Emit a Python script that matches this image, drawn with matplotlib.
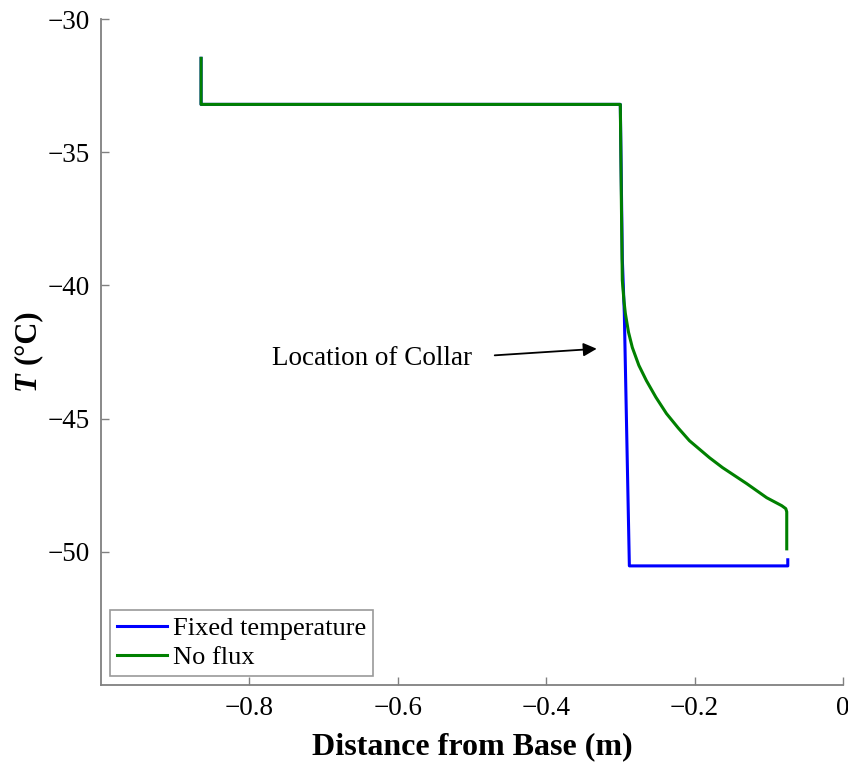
"""Temperature profile along the rod: fixed temperature vs no flux."""

import matplotlib
matplotlib.use("Agg")
import matplotlib.pyplot as plt

# values
fixed_x = [-0.865, -0.865, -0.300, -0.2973, -0.2946, -0.2878, -0.0743, -0.0743]
fixed_t = [-31.47, -33.20, -33.20, -39.0, -41.05, -50.53, -50.53, -50.30]

noflux_x = [-0.865, -0.865, -0.300, -0.2986, -0.2973, -0.2950, -0.2932, -0.2890,
            -0.2838, -0.2750, -0.2649, -0.2520, -0.2378, -0.2220, -0.2068,
            -0.1797, -0.1622, -0.1297, -0.1027, -0.0824, -0.0770, -0.0757,
            -0.0757]
noflux_t = [-31.47, -33.20, -33.20, -36.80, -39.81, -40.60, -41.05, -41.75,
            -42.33, -43.00, -43.57, -44.20, -44.81, -45.35, -45.83,
            -46.47, -46.84, -47.44, -47.97, -48.27, -48.38, -48.50,
            -49.89]

x_ticks = [-0.8, -0.6, -0.4, -0.2, 0]
x_ticklabels = ["\u22120.8", "\u22120.6", "\u22120.4", "\u22120.2", "0"]
y_ticks = [-50, -45, -40, -35, -30]
y_ticklabels = ["\u221250", "\u221245", "\u221240", "\u221235", "\u221230"]

plt.rcParams["font.family"] = ["Liberation Serif", "DejaVu Serif"]
fs = 19.5
grey = "#808080"

fig = plt.figure(figsize=(8.48, 7.67), dpi=100)
ax = fig.add_axes([0.119, 0.107, 0.875, 0.868])

ax.plot(fixed_x, fixed_t, color="#0000ff", lw=2.2, label="Fixed temperature")
ax.plot(noflux_x, noflux_t, color="#008000", lw=2.2, label="No flux")

ax.set_xlim(-1.0, 0.0)
ax.set_ylim(-55, -30)
ax.set_xticks(x_ticks)
ax.set_xticklabels(x_ticklabels)
ax.set_yticks(y_ticks)
ax.set_yticklabels(y_ticklabels)
ax.tick_params(direction="in", length=6, width=1.0, color=grey,
               labelsize=fs, pad=8)

for side in ["top", "right"]:
    ax.spines[side].set_visible(False)
for side in ["left", "bottom"]:
    ax.spines[side].set_color(grey)
    ax.spines[side].set_linewidth(1.3)

ax.set_xlabel("Distance from Base (m)", fontsize=23, fontweight="bold",
              labelpad=8)

# y label: bold italic T, then bold (°C)
fig.text(27 / 848, 1 - 381 / 767, "T", rotation=90, fontsize=22,
         fontweight="bold", fontstyle="italic", ha="center", va="center")
fig.text(27 / 848, 1 - 337 / 767, "(\u00b0C)", rotation=90, fontsize=22,
         fontweight="bold", ha="center", va="center")

ax.text(-0.770, -42.74, "Location of Collar", fontsize=fs, ha="left",
        va="center")
ax.annotate("", xy=(-0.328, -42.37), xytext=(-0.473, -42.63),
            arrowprops=dict(arrowstyle="-|>", color="black", lw=1.3,
                            mutation_scale=20))

leg = ax.legend(loc="lower left", fontsize=19, fancybox=False,
                handlelength=1.9, handletextpad=0.25, labelspacing=0.2,
                borderaxespad=0.35, borderpad=0.25)
leg.get_frame().set_edgecolor(grey)
leg.get_frame().set_linewidth(1.2)

fig.savefig("out.png", dpi=100)
